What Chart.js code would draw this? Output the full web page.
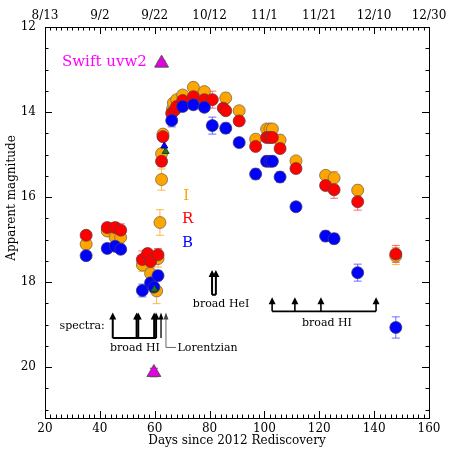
<!DOCTYPE html>
<html>
<head>
<meta charset="utf-8">
<script src="https://cdn.jsdelivr.net/npm/chart.js@4.4.1/dist/chart.umd.min.js"></script>
<style>
  html, body { margin: 0; padding: 0; background: #fff; }
  #wrap { width: 457px; height: 457px; }
</style>
</head>
<body>
<div id="wrap"><canvas id="lc" width="457" height="457"></canvas></div>
<script>
// --- datos: días desde el redescubrimiento y magnitudes ---
const bandI_days = [35, 42.7, 45.6, 47.6, 55.5, 58.5, 60.7, 61.2, 61.9, 62.5, 62.5, 63.0, 66.5, 66.8, 68.0, 70.2, 74.1, 78.1, 85.9, 90.8, 96.8, 100.8, 102.0, 102.9, 105.7, 111.5, 122.3, 125.4, 134.0, 147.9];
const bandI_mag  = [17.11, 16.80, 16.95, 16.95, 17.60, 17.80, 18.21, 17.45, 16.60, 15.59, 14.98, 14.52, 13.93, 13.79, 13.71, 13.60, 13.42, 13.52, 13.67, 13.97, 14.64, 14.40, 14.40, 14.40, 14.66, 15.15, 15.49, 15.55, 15.84, 17.39];
const bandI_err  = [0.10, 0.10, 0.20, 0.15, 0.15, 0.15, 0.30, 0.20, 0.30, 0.25, 0.12, 0.10, 0.10, 0.10, 0.10, 0.10, 0.12, 0.10, 0.12, 0.10, 0.10, 0.10, 0.10, 0.10, 0.12, 0.10, 0.10, 0.15, 0.12, 0.20];

const bandR_days = [35, 42.7, 45.6, 47.6, 55.5, 57.4, 58.5, 61.2, 62.5, 63.0, 66.2, 67.4, 68.0, 70.2, 74.1, 78.1, 81.0, 85.0, 85.9, 90.8, 96.8, 100.8, 102.0, 102.9, 105.7, 111.5, 122.3, 125.4, 134.0, 147.9];
const bandR_mag  = [16.90, 16.72, 16.72, 16.78, 17.47, 17.33, 17.52, 17.36, 15.16, 14.58, 14.03, 13.95, 13.87, 13.73, 13.64, 13.71, 13.71, 13.91, 13.97, 14.21, 14.81, 14.60, 14.60, 14.60, 14.86, 15.33, 15.73, 15.83, 16.11, 17.34];
const bandR_err  = [0.10, 0.10, 0.12, 0.15, 0.20, 0.10, 0.12, 0.15, 0.12, 0.10, 0.10, 0.10, 0.10, 0.10, 0.10, 0.10, 0.20, 0.10, 0.10, 0.10, 0.10, 0.10, 0.10, 0.10, 0.10, 0.10, 0.10, 0.20, 0.20, 0.20];

const bandB_days = [35, 42.7, 45.6, 47.6, 55.5, 58.5, 59.7, 61.2, 66.2, 70.2, 74.1, 78.1, 81.0, 85.9, 90.8, 96.8, 100.8, 102.0, 102.9, 105.7, 111.5, 122.3, 125.4, 134.0, 147.9];
const bandB_mag  = [17.38, 17.21, 17.16, 17.23, 18.20, 18.02, 18.12, 17.85, 14.20, 13.87, 13.83, 13.89, 14.32, 14.38, 14.72, 15.46, 15.16, 15.16, 15.16, 15.53, 16.23, 16.92, 16.98, 17.78, 19.07];
const bandB_err  = [0.10, 0.10, 0.10, 0.10, 0.15, 0.12, 0.12, 0.12, 0.15, 0.10, 0.10, 0.10, 0.20, 0.12, 0.10, 0.12, 0.12, 0.12, 0.12, 0.12, 0.10, 0.12, 0.12, 0.20, 0.25];

const triB_days = [63.5];
const triB_mag  = [14.80];
const triG_days = [59.9, 64.0];
const triG_mag  = [18.17, 14.93];

const uvw2_days = [62.5, 59.7];
const uvw2_mag  = [12.85, 20.13];
const uvw2_err  = [0.05, 0.10];

// ejes
const xTicks = [20, 40, 60, 80, 100, 120, 140, 160];
const topLabels = ['8/13', '9/2', '9/22', '10/12', '11/1', '11/21', '12/10', '12/30'];
const yTicks = [12, 14, 16, 18, 20];

// espectros (flechas)
const specLeftDays = [44.7, 53.4, 54.0, 59.8, 60.5];
const specLorentzDays = [62.3, 64.1];
const specHeDays = [80.9, 82.3];
const specRightDays = [102.8, 111.1, 120.6, 140.7];

const FONT = 'DejaVu Serif';

function pts(days, mag) { return days.map((d, i) => ({ x: d, y: mag[i] })); }

// --- barras de error ---
const errorBars = {
    id: 'errorBars',
    beforeDatasetsDraw(chart) {
        const { ctx, scales: { x, y } } = chart;
        chart.data.datasets.forEach((ds, k) => {
            if (!ds.err) return;
            ctx.save();
            ctx.strokeStyle = ds.errColor;
            ctx.lineWidth = 1;
            ds.data.forEach((p, i) => {
                const px = x.getPixelForValue(p.x);
                const y1 = y.getPixelForValue(p.y - ds.err[i]);
                const y2 = y.getPixelForValue(p.y + ds.err[i]);
                ctx.beginPath();
                ctx.moveTo(px, y1); ctx.lineTo(px, y2);
                ctx.moveTo(px - 4, y1); ctx.lineTo(px + 4, y1);
                ctx.moveTo(px - 4, y2); ctx.lineTo(px + 4, y2);
                ctx.stroke();
            });
            ctx.restore();
        });
    }
};

function arrow(ctx, px, yTip, yBase, lw) {
    ctx.lineWidth = lw;
    ctx.beginPath();
    ctx.moveTo(px, yBase); ctx.lineTo(px, yTip + 5);
    ctx.stroke();
    const hw = lw > 1.5 ? 3.5 : 2.5;
    ctx.beginPath();
    ctx.moveTo(px, yTip);
    ctx.lineTo(px - hw, yTip + 7);
    ctx.lineTo(px + hw, yTip + 7);
    ctx.closePath();
    ctx.fill();
}

// --- anotaciones, marcas y marco ---
const annotations = {
    id: 'annotations',
    afterDatasetsDraw(chart) {
        const { ctx, scales: { x, y } } = chart;
        const X = v => x.getPixelForValue(v);
        const Y = v => y.getPixelForValue(v);
        ctx.save();
        ctx.strokeStyle = '#000';
        ctx.fillStyle = '#000';

        // grupo izquierdo: broad HI
        const tipL = Y(18.72), baseL = Y(19.32);
        specLeftDays.forEach(d => arrow(ctx, X(d), tipL, baseL, 2));
        ctx.lineWidth = 2;
        ctx.beginPath();
        ctx.moveTo(X(specLeftDays[0]), baseL);
        ctx.lineTo(X(specLeftDays[specLeftDays.length - 1]), baseL);
        ctx.stroke();
        arrow(ctx, X(specLorentzDays[0]), tipL, baseL, 1.3);
        ctx.strokeStyle = '#444'; ctx.fillStyle = '#444';
        arrow(ctx, X(specLorentzDays[1]), tipL, Y(19.54), 0.8);
        ctx.lineWidth = 0.8;
        ctx.beginPath();
        ctx.moveTo(X(specLorentzDays[1]), Y(19.54));
        ctx.lineTo(X(67.8), Y(19.54));
        ctx.stroke();
        ctx.strokeStyle = '#000'; ctx.fillStyle = '#000';

        // grupo HeI
        const tipH = Y(17.72), baseH = Y(18.3);
        specHeDays.forEach(d => arrow(ctx, X(d), tipH, baseH, 2));
        ctx.lineWidth = 2;
        ctx.beginPath();
        ctx.moveTo(X(specHeDays[0]), baseH);
        ctx.lineTo(X(specHeDays[specHeDays.length - 1]), baseH);
        ctx.stroke();

        // grupo derecho: broad HI
        const tipR = Y(18.36), baseR = Y(18.69);
        specRightDays.forEach(d => arrow(ctx, X(d), tipR, baseR, 1.6));
        ctx.lineWidth = 1.6;
        ctx.beginPath();
        ctx.moveTo(X(specRightDays[0]), baseR);
        ctx.lineTo(X(specRightDays[specRightDays.length - 1]), baseR);
        ctx.stroke();

        // textos
        ctx.font = `11px "${FONT}"`;
        ctx.textBaseline = 'middle';
        ctx.textAlign = 'right';
        ctx.fillText('spectra:', X(41.8), Y(19.04));
        ctx.textAlign = 'center';
        ctx.fillText('broad HI', X(52.8), Y(19.56));
        ctx.fillText('broad HeI', X(84.2), Y(18.53));
        ctx.fillText('broad HI', X(122.8), Y(18.97));
        ctx.textAlign = 'left';
        ctx.fillText('Lorentzian', X(68.3), Y(19.56));

        ctx.font = `15px "${FONT}"`;
        ctx.textAlign = 'left';
        ctx.fillStyle = '#FF00FF';
        ctx.fillText('Swift uvw2', X(26.2), Y(12.82));
        ctx.font = `15px "${FONT}"`;
        ctx.textAlign = 'center';
        ctx.fillStyle = '#FFA500'; ctx.fillText('I', X(71.5), Y(15.97));
        ctx.fillStyle = '#FF0000'; ctx.fillText('R', X(72.0), Y(16.53));
        ctx.fillStyle = '#0000FF'; ctx.fillText('B', X(72.0), Y(17.08));

        // marcas hacia dentro
        const { left, right, top, bottom } = chart.chartArea;
        ctx.strokeStyle = '#000';
        ctx.lineWidth = 1;
        ctx.beginPath();
        for (let d = 20; d <= 160; d += 2) {
            const len = d % 20 === 0 ? 7 : 3.5;
            const px = Math.round(X(d)) + 0.5;
            ctx.moveTo(px, bottom); ctx.lineTo(px, bottom - len);
            ctx.moveTo(px, top); ctx.lineTo(px, top + len);
        }
        for (let m = 12; m <= 21.2; m += 0.5) {
            const len = m % 2 === 0 ? 7 : 3.5;
            const py = Math.round(Y(m)) + 0.5;
            ctx.moveTo(left, py); ctx.lineTo(left + len, py);
            ctx.moveTo(right, py); ctx.lineTo(right - len, py);
        }
        ctx.stroke();
        ctx.strokeRect(Math.round(left) + 0.5, Math.round(top) + 0.5, Math.round(right - left), Math.round(bottom - top));

        // título eje y
        ctx.save();
        ctx.translate(12, 198);
        ctx.rotate(-Math.PI / 2);
        ctx.fillStyle = '#000';
        ctx.font = `12px "${FONT}"`;
        ctx.textAlign = 'center';
        ctx.textBaseline = 'middle';
        ctx.fillText('Apparent magnitude', 0, 0);
        ctx.restore();

        ctx.restore();
    }
};

const tickFont = { family: FONT, size: 12 };

new Chart(document.getElementById('lc'), {
    type: 'scatter',
    data: {
        datasets: [
            { label: 'uvw2', data: pts(uvw2_days, uvw2_mag), err: uvw2_err, errColor: '#B000B0',
              pointStyle: 'triangle', pointRadius: 8, backgroundColor: '#E000E0', borderColor: '#555', borderWidth: 1, order: 0 },
            { label: 'B tri', data: pts(triB_days, triB_mag), pointStyle: 'triangle', pointRadius: 4,
              backgroundColor: '#0000FF', borderColor: '#0000AA', borderWidth: 1, order: 1 },
            { label: 'G tri', data: pts(triG_days, triG_mag), pointStyle: 'triangle', pointRadius: 4,
              backgroundColor: '#1E7A1E', borderColor: '#0F4F0F', borderWidth: 1, order: 2 },
            { label: 'B', data: pts(bandB_days, bandB_mag), err: bandB_err, errColor: 'rgba(60,60,255,0.75)',
              pointRadius: 6, backgroundColor: '#0000FF', borderColor: '#3a3a6a', borderWidth: 0.8, order: 3 },
            { label: 'R', data: pts(bandR_days, bandR_mag), err: bandR_err, errColor: 'rgba(255,60,60,0.75)',
              pointRadius: 6, backgroundColor: '#FF0000', borderColor: '#6a3a3a', borderWidth: 0.8, order: 4 },
            { label: 'I', data: pts(bandI_days, bandI_mag), err: bandI_err, errColor: 'rgba(255,170,40,0.85)',
              pointRadius: 6, backgroundColor: '#FFA500', borderColor: '#7a6a4a', borderWidth: 0.8, order: 5 }
        ]
    },
    options: {
        responsive: false,
        animation: false,
        events: [],
        layout: { padding: { left: 0, right: 28, top: 0, bottom: 0 } },
        plugins: { legend: { display: false }, tooltip: { enabled: false } },
        scales: {
            x: {
                type: 'linear', position: 'bottom', min: 20, max: 160,
                afterBuildTicks: s => { s.ticks = xTicks.map(v => ({ value: v })); },
                afterFit: s => { s.height = 39; },
                grid: { display: false, drawTicks: false },
                border: { display: false },
                ticks: { padding: 4, color: '#000', font: tickFont, maxRotation: 0, autoSkip: false },
                title: { display: true, text: 'Days since 2012 Rediscovery', color: '#000', font: tickFont, padding: { top: 0, bottom: 9 } }
            },
            x2: {
                type: 'linear', position: 'top', min: 20, max: 160,
                afterBuildTicks: s => { s.ticks = xTicks.map(v => ({ value: v })); },
                afterFit: s => { s.height = 27; },
                grid: { display: false, drawTicks: false },
                border: { display: false },
                ticks: { padding: 4, color: '#000', font: tickFont, maxRotation: 0, autoSkip: false,
                         callback: v => topLabels[xTicks.indexOf(v)] }
            },
            y: {
                type: 'linear', reverse: true, min: 12, max: 21.2,
                afterBuildTicks: s => { s.ticks = yTicks.map(v => ({ value: v })); },
                afterFit: s => { s.width = 45; },
                grid: { display: false, drawTicks: false },
                border: { display: false },
                ticks: { padding: 9, color: '#000', font: tickFont }
            }
        }
    },
    plugins: [errorBars, annotations]
});
</script>
</body>
</html>
